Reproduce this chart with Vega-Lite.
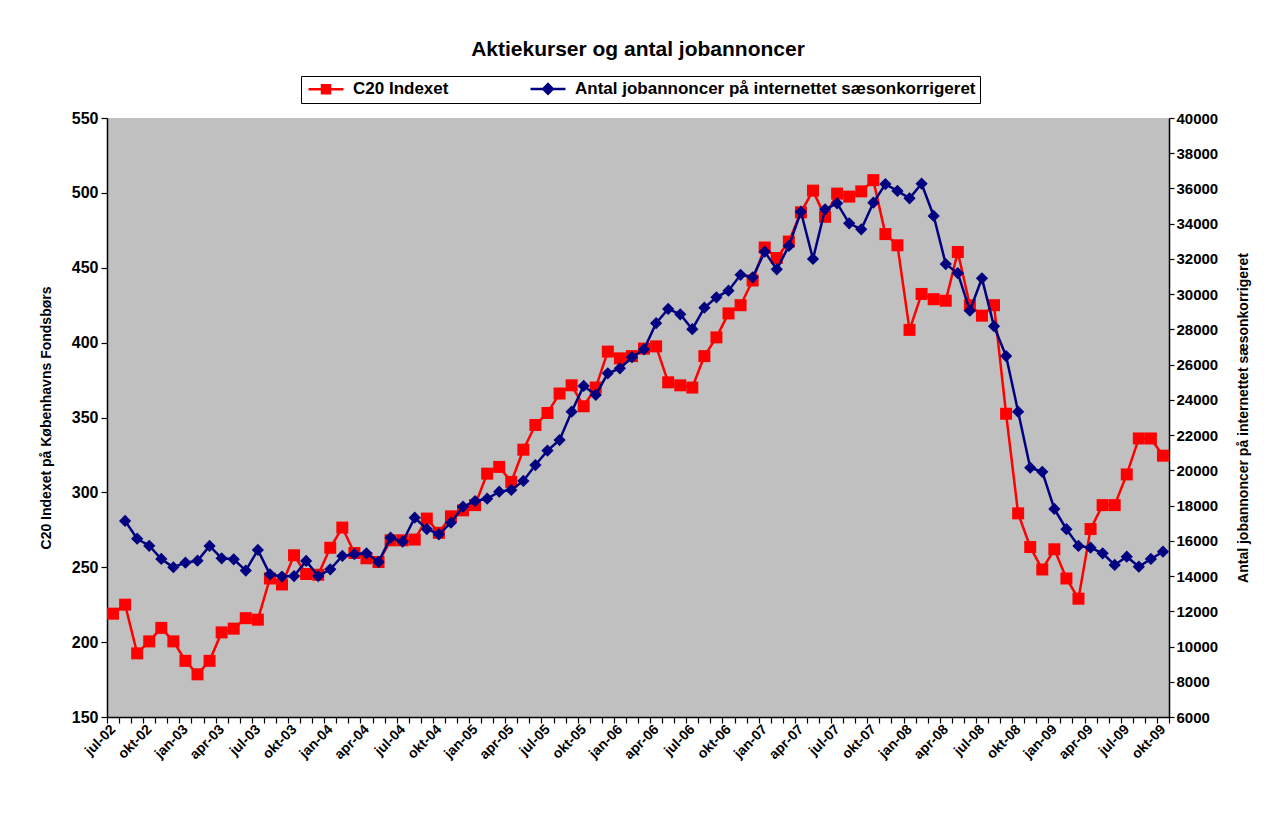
{
  "$schema": "https://vega.github.io/schema/vega-lite/v6.json",
  "width": 1062,
  "height": 599,
  "autosize": {"type": "none"},
  "padding": {"left": 107, "top": 118, "right": 102, "bottom": 97},
  "background": "white",
  "config": {
    "font": "Liberation Sans",
    "view": {"fill": "#C0C0C0", "stroke": null},
    "axis": {
      "grid": false,
      "domainColor": "black",
      "tickColor": "black",
      "labelColor": "black",
      "titleColor": "black",
      "labelFontWeight": "bold",
      "titleFontWeight": "bold",
      "labelFontSize": 15,
      "titleFontSize": 14,
      "domainWidth": 1.5,
      "tickWidth": 1.2
    }
  },
  "title": {
    "text": "Aktiekurser og antal jobannoncer",
    "fontSize": 21,
    "fontWeight": "bold",
    "font": "Liberation Sans",
    "color": "black",
    "anchor": "middle",
    "offset": 16
  },
  "data": {
    "values": [
      {"m": "jul-02", "c20": 219, "job": null},
      {"m": "aug-02", "c20": 225, "job": 17130},
      {"m": "sep-02", "c20": 192.5, "job": 16120},
      {"m": "okt-02", "c20": 200.5, "job": 15720},
      {"m": "nov-02", "c20": 209.5, "job": 14970},
      {"m": "dec-02", "c20": 200.5, "job": 14500},
      {"m": "jan-03", "c20": 187.5, "job": 14760},
      {"m": "feb-03", "c20": 178.5, "job": 14870},
      {"m": "mar-03", "c20": 187.5, "job": 15710},
      {"m": "apr-03", "c20": 206.5, "job": 15010},
      {"m": "maj-03", "c20": 209, "job": 14950},
      {"m": "jun-03", "c20": 216, "job": 14310},
      {"m": "jul-03", "c20": 215, "job": 15480},
      {"m": "aug-03", "c20": 242.5, "job": 14100},
      {"m": "sep-03", "c20": 238.5, "job": 13970},
      {"m": "okt-03", "c20": 258, "job": 14000},
      {"m": "nov-03", "c20": 245.5, "job": 14860},
      {"m": "dec-03", "c20": 245, "job": 14000},
      {"m": "jan-04", "c20": 263, "job": 14380},
      {"m": "feb-04", "c20": 276.5, "job": 15140},
      {"m": "mar-04", "c20": 259.5, "job": 15240},
      {"m": "apr-04", "c20": 256, "job": 15290},
      {"m": "maj-04", "c20": 253.5, "job": 14800},
      {"m": "jun-04", "c20": 268, "job": 16180},
      {"m": "jul-04", "c20": 268, "job": 15950},
      {"m": "aug-04", "c20": 268.5, "job": 17310},
      {"m": "sep-04", "c20": 282.5, "job": 16670},
      {"m": "okt-04", "c20": 273, "job": 16370},
      {"m": "nov-04", "c20": 284, "job": 17030},
      {"m": "dec-04", "c20": 288, "job": 17940},
      {"m": "jan-05", "c20": 291.5, "job": 18260},
      {"m": "feb-05", "c20": 312.5, "job": 18390},
      {"m": "mar-05", "c20": 317, "job": 18790},
      {"m": "apr-05", "c20": 307, "job": 18890},
      {"m": "maj-05", "c20": 328.5, "job": 19400},
      {"m": "jun-05", "c20": 345, "job": 20300},
      {"m": "jul-05", "c20": 353, "job": 21120},
      {"m": "aug-05", "c20": 366, "job": 21720},
      {"m": "sep-05", "c20": 371.5, "job": 23330},
      {"m": "okt-05", "c20": 357.5, "job": 24790},
      {"m": "nov-05", "c20": 370, "job": 24280},
      {"m": "dec-05", "c20": 394, "job": 25510},
      {"m": "jan-06", "c20": 389.5, "job": 25790},
      {"m": "feb-06", "c20": 391, "job": 26420},
      {"m": "mar-06", "c20": 396, "job": 26870},
      {"m": "apr-06", "c20": 397.5, "job": 28350},
      {"m": "maj-06", "c20": 373.5, "job": 29160},
      {"m": "jun-06", "c20": 371.5, "job": 28860},
      {"m": "jul-06", "c20": 370, "job": 28010},
      {"m": "aug-06", "c20": 391, "job": 29230},
      {"m": "sep-06", "c20": 403.5, "job": 29820},
      {"m": "okt-06", "c20": 419.5, "job": 30200},
      {"m": "nov-06", "c20": 425, "job": 31100},
      {"m": "dec-06", "c20": 441.5, "job": 30960},
      {"m": "jan-07", "c20": 463.5, "job": 32410},
      {"m": "feb-07", "c20": 456.5, "job": 31410},
      {"m": "mar-07", "c20": 467.5, "job": 32740},
      {"m": "apr-07", "c20": 487, "job": 34680},
      {"m": "maj-07", "c20": 501.5, "job": 32000},
      {"m": "jun-07", "c20": 484, "job": 34820},
      {"m": "jul-07", "c20": 499.5, "job": 35160},
      {"m": "aug-07", "c20": 497.5, "job": 34020},
      {"m": "sep-07", "c20": 501, "job": 33680},
      {"m": "okt-07", "c20": 508.5, "job": 35190},
      {"m": "nov-07", "c20": 472.5, "job": 36250},
      {"m": "dec-07", "c20": 465, "job": 35860},
      {"m": "jan-08", "c20": 408.5, "job": 35440},
      {"m": "feb-08", "c20": 432.5, "job": 36270},
      {"m": "mar-08", "c20": 429, "job": 34440},
      {"m": "apr-08", "c20": 428, "job": 31710},
      {"m": "maj-08", "c20": 460.5, "job": 31190},
      {"m": "jun-08", "c20": 425, "job": 29060},
      {"m": "jul-08", "c20": 418, "job": 30900},
      {"m": "aug-08", "c20": 425, "job": 28180},
      {"m": "sep-08", "c20": 352.5, "job": 26490},
      {"m": "okt-08", "c20": 286, "job": 23330},
      {"m": "nov-08", "c20": 263.5, "job": 20150},
      {"m": "dec-08", "c20": 248.5, "job": 19920},
      {"m": "jan-09", "c20": 262, "job": 17810},
      {"m": "feb-09", "c20": 242.5, "job": 16660},
      {"m": "mar-09", "c20": 229, "job": 15710},
      {"m": "apr-09", "c20": 275.5, "job": 15610},
      {"m": "maj-09", "c20": 291.5, "job": 15290},
      {"m": "jun-09", "c20": 291.5, "job": 14630},
      {"m": "jul-09", "c20": 312, "job": 15100},
      {"m": "aug-09", "c20": 336, "job": 14530},
      {"m": "sep-09", "c20": 336, "job": 14970},
      {"m": "okt-09", "c20": 324.5, "job": 15380}
    ]
  },
  "encoding": {
    "x": {
      "field": "m",
      "type": "ordinal",
      "sort": null,
      "scale": {"type": "band", "paddingInner": 0, "paddingOuter": 0},
      "axis": {
        "title": null,
        "labelAngle": -45,
        "labelAlign": "right",
        "labelBaseline": "middle",
        "labelFontSize": 14,
        "labelOverlap": false,
        "labelPadding": 4,
        "tickBand": "extent",
        "tickSize": 6,
        "labelExpr": "test(/^(jul|okt|jan|apr)/, datum.label) ? datum.label : ''"
      }
    }
  },
  "layer": [
    {
      "encoding": {
        "y": {
          "field": "c20",
          "type": "quantitative",
          "scale": {"domain": [150, 550], "nice": false, "zero": false},
          "axis": {
            "orient": "left",
            "title": "C20 Indexet på Københavns Fondsbørs",
            "values": [150, 200, 250, 300, 350, 400, 450, 500, 550],
            "labelFontSize": 16,
            "tickSize": 6,
            "labelPadding": 3,
            "titlePadding": 18
          }
        }
      },
      "layer": [
        {
          "mark": {"type": "line", "strokeWidth": 2.5},
          "encoding": {
            "color": {
              "datum": "C20 Indexet",
              "type": "nominal",
              "scale": {
                "domain": ["C20 Indexet", "Antal jobannoncer på internettet sæsonkorrigeret"],
                "range": ["#FF0000", "#000080"]
              },
              "legend": {
                "title": null,
                "orient": "none",
                "legendX": 194,
                "legendY": -42,
                "direction": "horizontal",
                "strokeColor": "black",
                "fillColor": "white",
                "padding": 4,
                "labelFontSize": 17,
                "labelFontWeight": "bold",
                "labelColor": "black",
                "labelLimit": 700,
                "symbolSize": 100,
                "labelOffset": 31,
                "columnPadding": 76,
                "encode": {
                  "symbols": {
                    "update": {
                      "shape": {"signal": "datum.value == 'C20 Indexet' ? 'M-1,0H6M1.7,-0.8H3.3V0.8H1.7Z' : 'M-1,0H6M1.55,0L2.5,-0.95L3.45,0L2.5,0.95Z'"},
                      "fill": {"signal": "datum.value == 'C20 Indexet' ? '#FF0000' : '#000080'"},
                      "stroke": {"signal": "datum.value == 'C20 Indexet' ? '#FF0000' : '#000080'"},
                      "strokeWidth": {"value": 2.5}
                    }
                  }
                }
              }
            }
          }
        },
        {
          "mark": {"type": "point", "shape": "square", "filled": true, "size": 144, "opacity": 1, "color": "#FF0000"},
          "encoding": {}
        }
      ]
    },
    {
      "encoding": {
        "y": {
          "field": "job",
          "type": "quantitative",
          "scale": {"domain": [6000, 40000], "nice": false, "zero": false},
          "axis": {
            "orient": "right",
            "title": "Antal jobannoncer på internettet sæsonkorrigeret",
            "titleAngle": 270,
            "values": [6000, 8000, 10000, 12000, 14000, 16000, 18000, 20000, 22000, 24000, 26000, 28000, 30000, 32000, 34000, 36000, 38000, 40000],
            "format": "d",
            "tickSize": 5,
            "labelPadding": 2,
            "titlePadding": 33
          }
        }
      },
      "layer": [
        {
          "mark": {"type": "line", "strokeWidth": 2.5},
          "encoding": {
            "color": {"datum": "Antal jobannoncer på internettet sæsonkorrigeret", "type": "nominal"}
          }
        },
        {
          "mark": {"type": "point", "shape": "diamond", "filled": true, "size": 150, "opacity": 1, "color": "#000080"},
          "encoding": {}
        }
      ]
    }
  ],
  "resolve": {"scale": {"y": "independent"}}
}
